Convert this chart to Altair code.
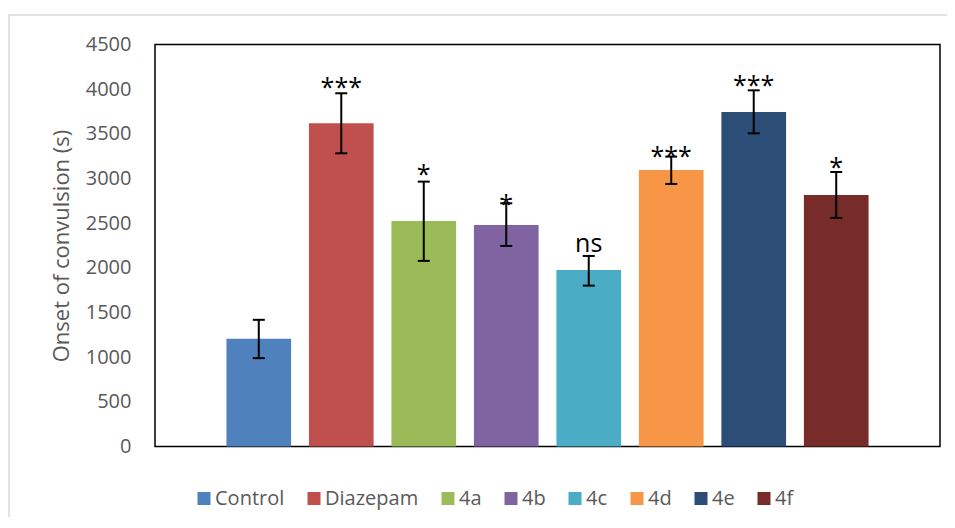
import altair as alt
import pandas as pd

groups = ["Control", "Diazepam", "4a", "4b", "4c", "4d", "4e", "4f"]
means = [1205, 3618, 2525, 2480, 1977, 3096, 3745, 2816]
err_low = [989, 3282, 2078, 2245, 1801, 2939, 3506, 2559]
err_high = [1418, 3954, 2965, 2723, 2133, 3245, 3987, 3073]
colors = ["#4F81BD", "#C0504D", "#9BBB59", "#8064A2", "#4BACC6", "#F79646", "#2C4D75", "#772C2A"]

star_groups = ["Diazepam", "4a", "4b", "4d", "4e", "4f"]
star_labels = ["***", "*", "*", "***", "***", "*"]
star_at = [4010, 3040, 2704, 3245, 4040, 3118]
ns_groups = ["4c"]
ns_labels = ["ns"]
ns_at = [2182]

y_ticks = list(range(0, 4501, 500))

df = pd.DataFrame({"group": groups, "mean": means, "lo": err_low, "hi": err_high})
df_stars = pd.DataFrame({"group": star_groups, "label": star_labels, "at": star_at})
df_ns = pd.DataFrame({"group": ns_groups, "label": ns_labels, "at": ns_at})

FONT = "Open Sans"
GRAY = "#595959"

x = alt.X("group:N", sort=groups, axis=None,
          scale=alt.Scale(domain=groups, paddingInner=0.216, paddingOuter=0.866))
yscale = alt.Scale(domain=[0, 4500], nice=False)

bars = alt.Chart(df).mark_bar().encode(
    x=x,
    y=alt.Y("mean:Q", scale=yscale, title="Onset of convulsion (s)",
            axis=alt.Axis(values=y_ticks, domain=False, ticks=False, grid=False,
                          labelFont=FONT, labelFontSize=20, labelColor=GRAY,
                          labelPadding=24, format="d",
                          titleFont=FONT, titleFontSize=22, titleColor=GRAY,
                          titleFontWeight="normal", titlePadding=12)),
    color=alt.Color("group:N", sort=groups,
                    scale=alt.Scale(domain=groups, range=colors),
                    legend=alt.Legend(orient="none", legendX=39, legendY=444,
                                      direction="horizontal", title=None,
                                      symbolType="square", symbolSize=169,
                                      symbolStrokeWidth=0, symbolOpacity=1,
                                      labelFont=FONT, labelFontSize=20,
                                      labelColor=GRAY, columnPadding=19,
                                      labelOffset=1, padding=0)),
)

rule = alt.Chart(df).mark_rule(color="black", strokeWidth=2).encode(
    x=x, y=alt.Y("lo:Q", scale=yscale), y2="hi:Q")
cap_lo = alt.Chart(df).mark_tick(color="black", thickness=2, size=12, opacity=1).encode(
    x=x, y=alt.Y("lo:Q", scale=yscale))
cap_hi = alt.Chart(df).mark_tick(color="black", thickness=2, size=12, opacity=1).encode(
    x=x, y=alt.Y("hi:Q", scale=yscale))

stars = alt.Chart(df_stars).mark_text(font=FONT, fontSize=25, color="black",
                                      baseline="alphabetic", dy=8).encode(
    x=x, y=alt.Y("at:Q", scale=yscale), text="label:N")
ns = alt.Chart(df_ns).mark_text(font=FONT, fontSize=25, color="black",
                                baseline="alphabetic").encode(
    x=x, y=alt.Y("at:Q", scale=yscale), text="label:N")

border = alt.Chart(pd.DataFrame({"k": [0]})).mark_rect(
    fillOpacity=0, stroke="#D9D9D9", strokeWidth=1.5).encode(
    x=alt.value(-146), x2=alt.value(820), y=alt.value(-29.5), y2=alt.value(540))

chart = alt.layer(border, bars, rule, cap_lo, cap_hi, stars, ns).properties(
    width=785, height=402,
    background="white",
    autosize=alt.AutoSizeParams(type="none"),
    padding={"left": 147, "top": 36.5, "right": 7, "bottom": 70},
).configure_view(stroke="black", strokeWidth=1.5)

chart.save("out.html", embed_options={"renderer": "svg", "actions": False})
